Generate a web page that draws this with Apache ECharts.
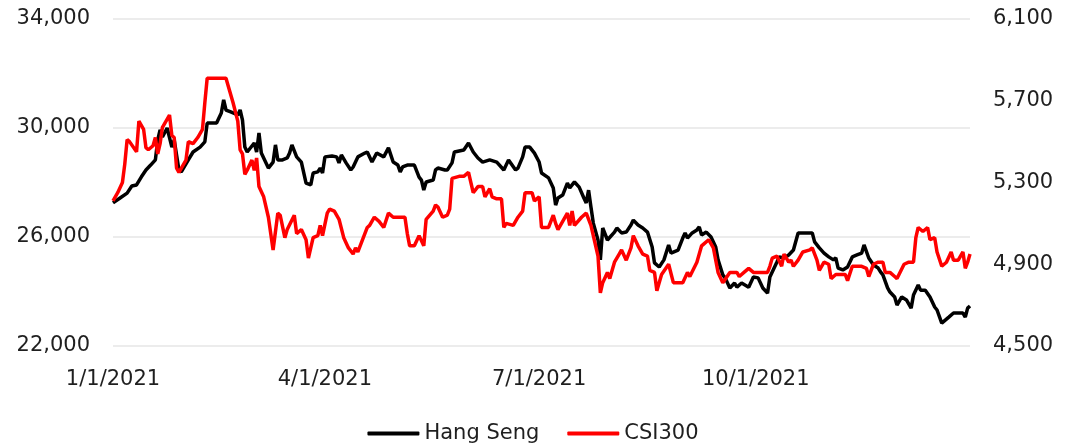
<!DOCTYPE html>
<html><head><meta charset="utf-8">
<script src="https://cdn.jsdelivr.net/npm/echarts@6/dist/echarts.min.js"></script>
<style>html,body{margin:0;padding:0;background:#fff}#c{width:1066px;height:444px}</style>
</head><body><div id="c"></div>
<script>
const hsDates = ['2021-01-01','2021-01-04','2021-01-07','2021-01-09','2021-01-11','2021-01-13','2021-01-15','2021-01-17','2021-01-19','2021-01-20','2021-01-21','2021-01-22','2021-01-24','2021-01-26','2021-01-27','2021-01-29','2021-01-30','2021-02-02','2021-02-04','2021-02-07','2021-02-09','2021-02-10','2021-02-14','2021-02-16','2021-02-17','2021-02-18','2021-02-20','2021-02-23','2021-02-24','2021-02-25','2021-02-26','2021-02-27','2021-03-02','2021-03-03','2021-03-04','2021-03-05','2021-03-08','2021-03-10','2021-03-11','2021-03-12','2021-03-14','2021-03-16','2021-03-17','2021-03-18','2021-03-20','2021-03-22','2021-03-24','2021-03-26','2021-03-27','2021-03-29','2021-03-30','2021-03-31','2021-04-01','2021-04-04','2021-04-06','2021-04-07','2021-04-08','2021-04-10','2021-04-12','2021-04-13','2021-04-15','2021-04-18','2021-04-19','2021-04-21','2021-04-23','2021-04-26','2021-04-28','2021-04-30','2021-05-02','2021-05-03','2021-05-04','2021-05-06','2021-05-09','2021-05-11','2021-05-12','2021-05-13','2021-05-14','2021-05-17','2021-05-18','2021-05-19','2021-05-22','2021-05-23','2021-05-25','2021-05-26','2021-05-30','2021-06-01','2021-06-03','2021-06-05','2021-06-07','2021-06-10','2021-06-13','2021-06-16','2021-06-18','2021-06-21','2021-06-22','2021-06-24','2021-06-25','2021-06-27','2021-06-29','2021-07-01','2021-07-02','2021-07-05','2021-07-07','2021-07-08','2021-07-09','2021-07-11','2021-07-13','2021-07-14','2021-07-16','2021-07-18','2021-07-20','2021-07-21','2021-07-22','2021-07-23','2021-07-24','2021-07-26','2021-07-27','2021-07-28','2021-07-30','2021-08-02','2021-08-03','2021-08-05','2021-08-07','2021-08-09','2021-08-10','2021-08-12','2021-08-14','2021-08-16','2021-08-18','2021-08-19','2021-08-21','2021-08-23','2021-08-25','2021-08-26','2021-08-29','2021-08-31','2021-09-01','2021-09-02','2021-09-04','2021-09-06','2021-09-07','2021-09-08','2021-09-10','2021-09-12','2021-09-14','2021-09-15','2021-09-17','2021-09-18','2021-09-20','2021-09-22','2021-09-23','2021-09-25','2021-09-28','2021-09-30','2021-10-02','2021-10-04','2021-10-06','2021-10-07','2021-10-10','2021-10-11','2021-10-13','2021-10-15','2021-10-17','2021-10-19','2021-10-22','2021-10-25','2021-10-26','2021-10-28','2021-10-30','2021-11-01','2021-11-03','2021-11-04','2021-11-05','2021-11-07','2021-11-09','2021-11-11','2021-11-13','2021-11-15','2021-11-16','2021-11-18','2021-11-20','2021-11-22','2021-11-23','2021-11-24','2021-11-26','2021-11-27','2021-11-29','2021-11-30','2021-12-02','2021-12-04','2021-12-06','2021-12-07','2021-12-09','2021-12-10','2021-12-12','2021-12-14','2021-12-16','2021-12-17','2021-12-19','2021-12-22','2021-12-24','2021-12-26','2021-12-28','2021-12-29','2021-12-30','2021-12-31'];
const hsValues = [27250,27430,27610,27870,27910,28200,28460,28640,28830,29560,29930,29670,30000,29300,29560,28460,28390,28830,29120,29300,29490,30180,30180,30550,31030,30660,30590,30480,30660,30290,29300,29120,29450,29120,29820,29080,28530,28750,29380,28830,28830,28900,29080,29380,28940,28750,27980,27910,28350,28390,28530,28350,28940,28970,28940,28720,29010,28720,28460,28570,28940,29080,29120,28750,29080,28940,29270,28750,28640,28390,28570,28640,28640,28200,28090,27720,28020,28090,28460,28530,28460,28460,28720,29120,29190,29450,29120,28900,28750,28830,28750,28460,28830,28460,28530,28940,29300,29300,29080,28750,28350,28170,27800,27170,27430,27540,27980,27800,28020,27830,27430,27250,27720,27100,26510,25890,25160,26330,25890,26180,26330,26150,26180,26440,26620,26440,26330,26180,25630,25050,24900,25160,25710,25410,25520,25960,26150,25960,26150,26260,26370,26070,26180,26000,25630,25160,24610,24500,24130,24310,24160,24310,24160,24530,24500,24130,23940,24530,25080,25270,25230,25340,25520,26150,26150,26150,25820,25600,25410,25270,25160,25230,24860,24790,24900,25270,25340,25410,25710,25230,24970,24860,24720,24610,24130,23980,23800,23500,23800,23690,23390,23870,24240,24050,24050,23800,23430,23320,22840,23060,23210,23210,23210,23060,23390,23470];
const csiDates = ['2021-01-01','2021-01-03','2021-01-05','2021-01-06','2021-01-07','2021-01-08','2021-01-11','2021-01-12','2021-01-14','2021-01-15','2021-01-16','2021-01-18','2021-01-19','2021-01-20','2021-01-21','2021-01-22','2021-01-25','2021-01-26','2021-01-27','2021-01-28','2021-01-29','2021-02-01','2021-02-02','2021-02-04','2021-02-06','2021-02-08','2021-02-09','2021-02-10','2021-02-18','2021-02-19','2021-02-21','2021-02-23','2021-02-24','2021-02-25','2021-02-26','2021-02-27','2021-03-01','2021-03-02','2021-03-03','2021-03-04','2021-03-06','2021-03-08','2021-03-10','2021-03-12','2021-03-13','2021-03-15','2021-03-16','2021-03-19','2021-03-20','2021-03-22','2021-03-24','2021-03-25','2021-03-27','2021-03-29','2021-03-30','2021-03-31','2021-04-02','2021-04-03','2021-04-05','2021-04-07','2021-04-09','2021-04-11','2021-04-13','2021-04-14','2021-04-15','2021-04-17','2021-04-19','2021-04-20','2021-04-22','2021-04-24','2021-04-26','2021-04-28','2021-04-30','2021-05-02','2021-05-05','2021-05-06','2021-05-07','2021-05-09','2021-05-11','2021-05-13','2021-05-14','2021-05-17','2021-05-18','2021-05-19','2021-05-21','2021-05-23','2021-05-24','2021-05-25','2021-05-28','2021-05-30','2021-06-01','2021-06-03','2021-06-05','2021-06-07','2021-06-08','2021-06-10','2021-06-11','2021-06-13','2021-06-15','2021-06-16','2021-06-17','2021-06-20','2021-06-22','2021-06-24','2021-06-25','2021-06-28','2021-06-29','2021-07-01','2021-07-02','2021-07-05','2021-07-07','2021-07-08','2021-07-09','2021-07-11','2021-07-13','2021-07-14','2021-07-15','2021-07-16','2021-07-19','2021-07-21','2021-07-23','2021-07-26','2021-07-27','2021-07-28','2021-07-30','2021-07-31','2021-08-02','2021-08-04','2021-08-05','2021-08-07','2021-08-09','2021-08-10','2021-08-12','2021-08-14','2021-08-16','2021-08-17','2021-08-19','2021-08-20','2021-08-22','2021-08-25','2021-08-27','2021-08-29','2021-08-31','2021-09-02','2021-09-03','2021-09-06','2021-09-08','2021-09-09','2021-09-11','2021-09-13','2021-09-15','2021-09-17','2021-09-20','2021-09-23','2021-09-24','2021-09-26','2021-09-28','2021-09-30','2021-10-03','2021-10-06','2021-10-07','2021-10-08','2021-10-10','2021-10-12','2021-10-13','2021-10-15','2021-10-16','2021-10-17','2021-10-19','2021-10-21','2021-10-24','2021-10-25','2021-10-27','2021-10-28','2021-10-30','2021-11-01','2021-11-02','2021-11-04','2021-11-06','2021-11-08','2021-11-09','2021-11-11','2021-11-13','2021-11-15','2021-11-17','2021-11-18','2021-11-20','2021-11-22','2021-11-24','2021-11-25','2021-11-27','2021-11-29','2021-11-30','2021-12-03','2021-12-05','2021-12-07','2021-12-08','2021-12-09','2021-12-11','2021-12-13','2021-12-14','2021-12-16','2021-12-17','2021-12-19','2021-12-21','2021-12-23','2021-12-24','2021-12-26','2021-12-28','2021-12-29','2021-12-30','2021-12-31'];
const csiValues = [5210,5250,5300,5390,5510,5500,5450,5600,5560,5470,5460,5480,5520,5440,5490,5570,5630,5530,5520,5370,5350,5410,5500,5490,5520,5560,5690,5810,5810,5770,5690,5600,5460,5440,5340,5360,5410,5360,5420,5280,5230,5130,4970,5150,5140,5030,5070,5140,5050,5070,5020,4930,5030,5040,5090,5040,5150,5170,5160,5120,5030,4980,4950,4980,4960,5020,5080,5090,5130,5110,5080,5150,5130,5130,5130,5050,4990,4990,5040,4990,5120,5160,5190,5180,5130,5140,5170,5320,5330,5330,5350,5250,5280,5280,5230,5270,5230,5220,5220,5080,5100,5090,5130,5160,5250,5250,5210,5230,5080,5080,5140,5100,5070,5110,5150,5090,5160,5090,5130,5150,5090,4940,4760,4810,4860,4830,4910,4950,4970,4920,4980,5040,4990,4950,4940,4870,4860,4770,4850,4900,4810,4810,4810,4860,4840,4910,4990,5000,5020,4980,4860,4810,4860,4860,4840,4860,4880,4860,4860,4860,4890,4930,4940,4890,4950,4910,4920,4890,4920,4960,4970,4980,4920,4870,4910,4900,4830,4850,4850,4850,4820,4890,4890,4890,4880,4840,4900,4910,4910,4860,4860,4840,4830,4900,4910,4910,5030,5080,5060,5080,5020,5030,4960,4890,4910,4960,4920,4920,4960,4880,4910,4950];
const leftTicks = [22000, 26000, 30000, 34000];
const rightTicks = [4500, 4900, 5300, 5700, 6100];
const xTickLabels = ['1/1/2021', '4/1/2021', '7/1/2021', '10/1/2021'];
const seriesNames = ['Hang Seng', 'CSI300'];

const FONT = 'DejaVu Sans';
const TXT = '#1f1f1f';
const fmt = v => v.toLocaleString('en-US');

const chart = echarts.init(document.getElementById('c'), null, {renderer: 'canvas'});
chart.setOption({
  animation: false,
  backgroundColor: '#ffffff',
  textStyle: {fontFamily: FONT},
  grid: {left: 113, right: 96, top: 19, bottom: 98, containLabel: false},
  legend: {
    data: seriesNames.map(n => ({name: n, icon: 'roundRect'})),
    top: 418, left: 'center', itemGap: 28, itemWidth: 52, itemHeight: 4,
    textStyle: {fontFamily: FONT, fontSize: 21, color: TXT, padding: [0, 0, 0, 0]}
  },
  xAxis: {
    type: 'time', min: '2021-01-01', max: '2021-12-31', splitNumber: 12,
    axisLine: {show: false}, axisTick: {show: false}, splitLine: {show: false},
    axisLabel: {
      fontFamily: FONT, fontSize: 21, color: TXT, margin: 23, hideOverlap: false,
      showMinLabel: true, showMaxLabel: false,
      formatter: (v) => {
        const d = new Date(v);
        const s = (d.getMonth() + 1) + '/' + d.getDate() + '/' + d.getFullYear();
        return xTickLabels.includes(s) ? s : '';
      }
    }
  },
  yAxis: [
    {
      type: 'value', position: 'left', min: 22000, max: 34000, interval: 2000,
      axisLine: {show: false}, axisTick: {show: false}, splitLine: {show: false},
      axisLabel: {fontFamily: FONT, fontSize: 21, color: TXT, margin: 23,
        formatter: v => leftTicks.includes(v) ? fmt(v) : ''}
    },
    {
      type: 'value', position: 'right', min: 4500, max: 6100, interval: 400,
      axisLine: {show: false}, axisTick: {show: false}, splitLine: {show: false},
      axisLabel: {fontFamily: FONT, fontSize: 21, color: TXT, margin: 23,
        formatter: v => rightTicks.includes(v) ? fmt(v) : ''}
    },
    {
      type: 'value', position: 'left', min: 0, max: leftTicks.length - 1, interval: 1,
      axisLine: {show: false}, axisTick: {show: false}, axisLabel: {show: false},
      splitLine: {show: true, lineStyle: {color: '#e6e6e6', width: 1.5}}
    }
  ],
  series: [
    {
      name: seriesNames[0], type: 'line', yAxisIndex: 0, symbol: 'none', showSymbol: false,
      lineStyle: {color: '#000000', width: 3.5}, itemStyle: {color: '#000000'},
      data: hsDates.map((d, i) => [d, hsValues[i]])
    },
    {
      name: seriesNames[1], type: 'line', yAxisIndex: 1, symbol: 'none', showSymbol: false,
      lineStyle: {color: '#ff0000', width: 3.5}, itemStyle: {color: '#ff0000'},
      data: csiDates.map((d, i) => [d, csiValues[i]])
    }
  ]
});
</script></body></html>
